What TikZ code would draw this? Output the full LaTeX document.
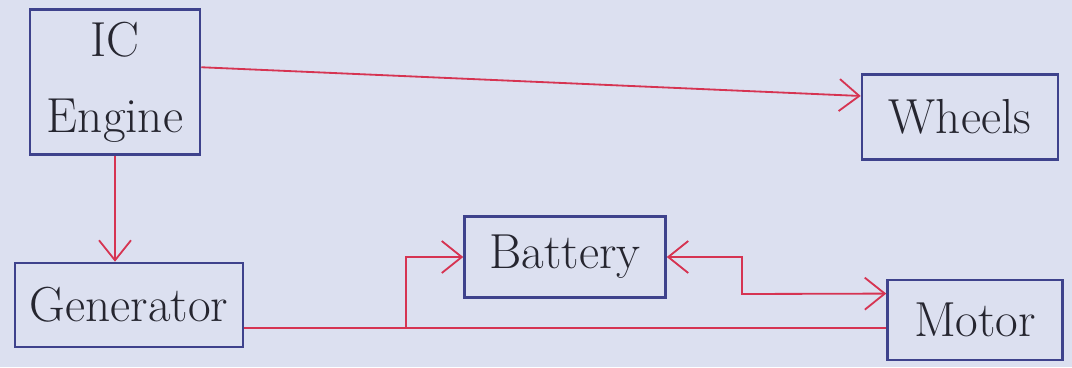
\documentclass[tikz,border=0pt]{standalone}
\usetikzlibrary{arrows.meta,calc}

\definecolor{paper}{RGB}{220,224,240}
\definecolor{ink}{RGB}{62,66,140}
\definecolor{wire}{RGB}{214,52,82}
\definecolor{pen}{RGB}{38,38,48}

\tikzset{
    blockbox/.style={draw=ink, line width=1.8pt, text=pen, align=center,
        font=\fontsize{35}{44}\selectfont},
    flow/.style={draw=wire, line width=1.3pt},
    tip/.style={-{Straight Barb[length=5mm,width=8mm]}},
}

\begin{document}
\begin{tikzpicture}
    \fill[paper] (0,0) rectangle (26.8,-9.175);
    \useasboundingbox (0,0) rectangle (26.8,-9.175);

    % Blocks
    \node[blockbox, minimum width=4.25cm, minimum height=3.625cm] (engine) at (2.875,-2.05) {IC\\[0.35cm]Engine};
    \node[blockbox, minimum width=4.9cm, minimum height=2.125cm] (wheels) at (24.0,-2.925) {Wheels};
    \node[blockbox, minimum width=5.7cm, minimum height=2.1cm] (generator) at (3.225,-7.625) {Generator};
    \node[blockbox, minimum width=5.025cm, minimum height=2.025cm] (battery) at (14.125,-6.425) {Battery};
    \node[blockbox, minimum width=4.375cm, minimum height=2.0cm] (motor) at (24.375,-8.0) {Motor};

    % Ports
    \coordinate (engineOut) at ($(engine.north east)!0.4!(engine.south east)$);
    \coordinate (wheelsIn) at ($(wheels.north west)!0.26!(wheels.south west)$);
    \coordinate (genOut) at ($(generator.north east)!0.77!(generator.south east)$);
    \coordinate (split) at (genOut -| 10.15,0);
    \coordinate (motorLow) at (genOut -| motor.west);
    \coordinate (tap) at (18.55,-7.35);
    \coordinate (motorIn) at ($(motor.north west)!0.18!(motor.south west)$);

    % Edges
    \draw[flow, tip] (engineOut) -- (wheelsIn);
    \draw[flow, tip] (engine.south) -- (engine.south |- generator.north);
    \draw[flow] (genOut) -- (motorLow);
    \draw[flow, tip] (split) |- (battery.west);
    \draw[flow, tip] (tap) -- (tap |- battery.east) -- (battery.east);
    \draw[flow, tip] (tap |- battery.east) -- (tap) -- (motorIn);
\end{tikzpicture}
\end{document}
